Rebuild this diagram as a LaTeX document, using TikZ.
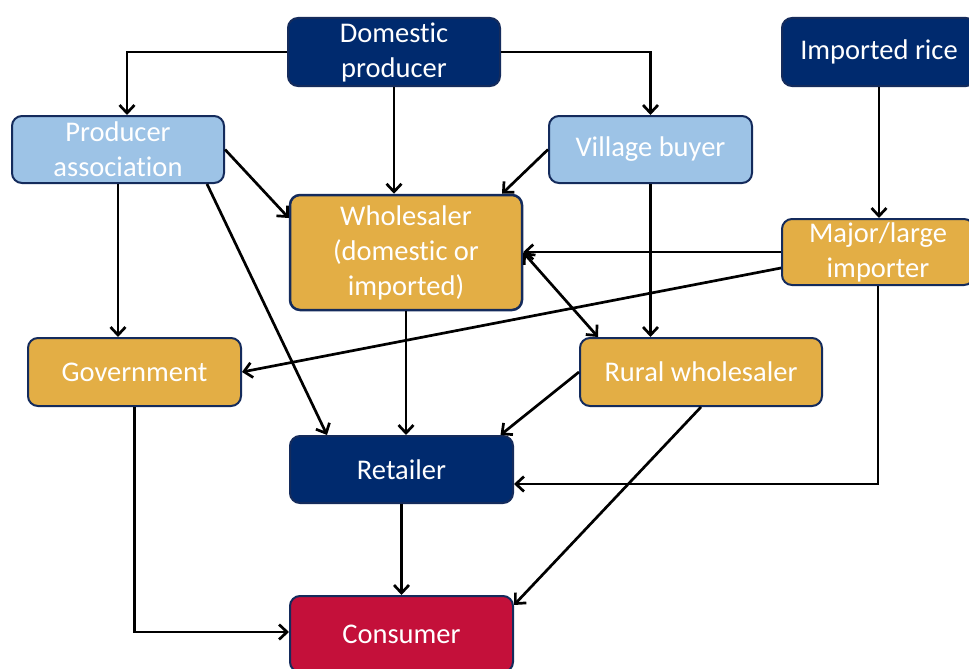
\documentclass[tikz,border=0pt]{standalone}
\usepackage{fontspec}
\setmainfont[Ligatures={NoCommon,NoDiscretionary},RawFeature={-liga;-dlig;-clig}]{Carlito}
\usetikzlibrary{arrows.meta}
\definecolor{navy}{HTML}{002A6E}
\definecolor{lblue}{HTML}{9DC3E6}
\definecolor{gold}{HTML}{E3AE45}
\definecolor{crim}{HTML}{C4103A}
\definecolor{bord}{HTML}{142B5C}
\begin{document}
\begin{tikzpicture}[x=1pt,y=-1pt,
  box/.style={draw=bord,line width=2pt,rounded corners=10pt,text=white,align=center,
    font=\fontsize{28.5}{35}\selectfont,inner sep=0pt,anchor=center},
  arr/.style={line width=2.7pt,-{Straight Barb[length=8pt,width=15pt]}},
  darr/.style={line width=2.7pt,{Straight Barb[length=8pt,width=15pt]}-{Straight Barb[length=8pt,width=15pt]}}]
\useasboundingbox (0,0) rectangle (969,669);
\fill[white] (0,0) rectangle (969,669);
\node[box,fill=navy,minimum width=212pt,minimum height=68pt] (dp) at (394,52) {Domestic\\producer};
\node[box,fill=navy,minimum width=194pt,minimum height=68pt] (ir) at (879,52) {Imported rice};
\node[box,fill=lblue,minimum width=212pt,minimum height=67pt] (pa) at (118,149.5) {Producer\\association};
\node[box,fill=lblue,minimum width=203pt,minimum height=67pt] (vb) at (650.5,149.5) {Village buyer};
\node[box,fill=gold,minimum width=232pt,minimum height=115pt,line width=2.5pt] (ws) at (406,252.5) {Wholesaler\\(domestic or\\imported)};
\node[box,fill=gold,minimum width=192pt,minimum height=66pt] (mi) at (878,252) {Major/large\\importer};
\node[box,fill=gold,minimum width=213pt,minimum height=68pt] (gov) at (134.5,372) {Government};
\node[box,fill=gold,minimum width=242pt,minimum height=68pt] (rw) at (701,372) {Rural wholesaler};
\node[box,fill=navy,minimum width=223pt,minimum height=67pt] (ret) at (401.5,469.5) {Retailer};
\node[box,fill=crim,minimum width=223pt,minimum height=76pt] (con) at (401.5,634) {Consumer};
% connectors
\draw[arr] (dp.west) -| ([xshift=9pt]pa.north);
\draw[arr] (dp.east) -| (vb.north);
\draw[arr] (dp.south) -- (dp.south |- ws.north);
\draw[arr] (ir.south) -- (ir.south |- mi.north);
\draw[arr] (pa.east) -- ([yshift=34.5pt]ws.west);
\draw[arr] (pa.south) -- (pa.south |- gov.north);
\draw[arr] ([xshift=89pt]pa.south) -- ([xshift=-74.5pt]ret.north);
\draw[arr] (vb.west) -- ([xshift=96pt]ws.north);
\draw[arr] (vb.south) -- (vb.south |- rw.north);
\draw[arr] (mi.west) -- (mi.west -| ws.east);
\draw[arr] ([yshift=-16pt]mi.west) -- (gov.east);
\draw[arr] (mi.south) |- ([yshift=-14.5pt]ret.east);
\draw[darr] (ws.east) -- ([xshift=-103pt]rw.north);
\draw[arr] (ws.south) -- (ws.south |- ret.north);
\draw[arr] (rw.west) -- ([xshift=99pt]ret.north);
\draw[arr] (rw.south) -- ([yshift=29pt]con.east);
\draw[arr] (gov.south) |- ([yshift=2pt]con.west);
\draw[arr] (ret.south) -- (con.north);
\end{tikzpicture}
\end{document}
